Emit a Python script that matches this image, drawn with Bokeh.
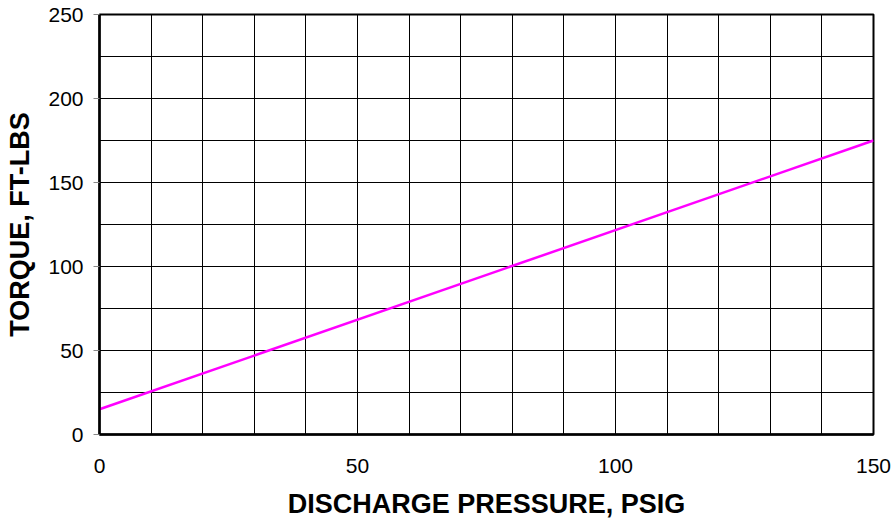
from bokeh.plotting import figure
from bokeh.models import FixedTicker, Range1d, Grid
from bokeh.embed import file_html
from bokeh.resources import INLINE

# Data
pressure = [0, 150]
torque = [15, 175]
x_ticks = [0, 50, 100, 150]
y_ticks = [0, 50, 100, 150, 200, 250]
x_grid = list(range(0, 151, 10))
y_grid = list(range(0, 251, 25))

p = figure(width=892, height=525, output_backend="svg", toolbar_location=None,
           x_range=Range1d(0, 150), y_range=Range1d(0, 250),
           min_border_left=99, min_border_top=14, min_border_right=19, min_border_bottom=91)

p.xgrid.visible = False
p.ygrid.visible = False
p.add_layout(Grid(dimension=0, ticker=FixedTicker(ticks=x_grid),
                  grid_line_color="black", grid_line_width=1))
p.add_layout(Grid(dimension=1, ticker=FixedTicker(ticks=y_grid),
                  grid_line_color="black", grid_line_width=1))

p.line(pressure, torque, line_color="#FF00FF", line_width=2.5)

p.outline_line_color = "black"
p.outline_line_width = 2
p.outline_line_alpha = 1

font = "Liberation Sans"
for ax in (p.xaxis[0], p.yaxis[0]):
    ax.axis_line_color = "black"
    ax.axis_line_width = 2.5
    ax.minor_tick_line_color = None
    ax.major_label_text_font = font
    ax.major_label_text_font_size = "21px"
    ax.major_label_text_color = "black"
    ax.axis_label_text_font = font
    ax.axis_label_text_font_size = "27px"
    ax.axis_label_text_font_style = "bold"
    ax.axis_label_text_color = "black"

p.xaxis.ticker = FixedTicker(ticks=x_ticks)
p.yaxis.ticker = FixedTicker(ticks=y_ticks)
p.xaxis.major_tick_out = 0
p.xaxis.major_tick_in = 0
p.xaxis.major_label_standoff = 24
p.xaxis.axis_label = "DISCHARGE PRESSURE, PSIG"
p.xaxis.axis_label_standoff = 13

p.yaxis.major_tick_out = 6
p.yaxis.major_tick_in = 0
p.yaxis.major_tick_line_color = "#888888"
p.yaxis.major_label_standoff = 10
p.yaxis.axis_label = "TORQUE, FT-LBS"
p.yaxis.axis_label_standoff = 10

open("out.html", "w").write(file_html(p, INLINE))
